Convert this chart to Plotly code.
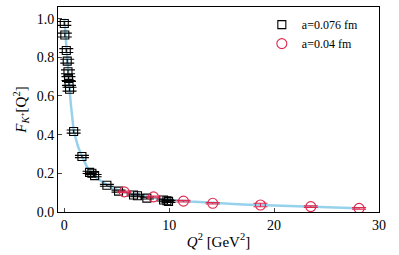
import plotly.graph_objects as go

# a=0.076 fm (black squares)
q2_a076 = [0.0, 0.05, 0.19, 0.28, 0.35, 0.4, 0.45, 0.5, 0.89, 1.68, 2.41, 2.63, 2.89, 4.06, 5.17, 6.6, 6.98, 7.87, 9.46, 9.78, 9.94]
ff_a076 = [0.975, 0.915, 0.835, 0.78, 0.725, 0.69, 0.665, 0.635, 0.416, 0.287, 0.205, 0.200, 0.188, 0.138, 0.108, 0.088, 0.084, 0.072, 0.062, 0.058, 0.055]
err_a076 = [0.01, 0.01, 0.01, 0.01, 0.01, 0.01, 0.01, 0.01, 0.008, 0.006, 0.006, 0.006, 0.006, 0.005, 0.005, 0.005, 0.005, 0.005, 0.005, 0.005, 0.005]

# a=0.04 fm (red circles)
q2_a04 = [5.71, 8.5, 11.36, 14.15, 18.7, 23.5, 28.1]
ff_a04 = [0.104, 0.078, 0.056, 0.045, 0.036, 0.028, 0.019]
err_a04 = [0.004, 0.004, 0.004, 0.004, 0.009, 0.004, 0.004]

# fitted curve
q2_fit = [0, 0.1, 0.2, 0.3, 0.45, 0.6, 0.9, 1.3, 1.7, 2.2, 2.8, 3.5, 4.2, 5, 6, 7, 8, 9, 10, 12, 14, 17, 20, 24, 28]
ff_fit = [1.0, 0.92, 0.84, 0.77, 0.66, 0.57, 0.42, 0.34, 0.285, 0.23, 0.19, 0.16, 0.135, 0.115, 0.1, 0.088, 0.078, 0.07, 0.063, 0.054, 0.047, 0.039, 0.033, 0.026, 0.02]

FONT = "Liberation Serif"

fig = go.Figure()
fig.add_trace(go.Scatter(x=q2_fit, y=ff_fit, mode="lines", line=dict(color="#96d2ec", width=2.5),
                         showlegend=False, hoverinfo="skip"))
fig.add_trace(go.Scatter(x=q2_a076, y=ff_a076, mode="markers", name="a=0.076 fm",
                         marker=dict(symbol="square-open", size=8, color="black", line=dict(width=1.1)),
                         error_y=dict(type="data", array=err_a076, color="black", thickness=1.1, width=7)))
fig.add_trace(go.Scatter(x=q2_a04, y=ff_a04, mode="markers", name="a=0.04 fm",
                         marker=dict(symbol="circle-open", size=10, color="#e0284f", line=dict(width=1.1)),
                         error_y=dict(type="data", array=err_a04, color="#e0284f", thickness=1.1, width=7)))

fig.update_layout(
    width=399, height=255,
    margin=dict(l=58, r=20, t=7, b=43),
    paper_bgcolor="white", plot_bgcolor="white",
    font=dict(family=FONT, size=13, color="black"),
    legend=dict(x=0.635, y=0.985, xanchor="left", yanchor="top", bgcolor="rgba(0,0,0,0)",
                font=dict(family=FONT, size=12), itemwidth=30, tracegroupgap=0),
    xaxis=dict(range=[-0.6, 30], tickvals=[0, 10, 20, 30], ticks="inside", ticklen=4,
               showline=True, linecolor="black", linewidth=1, mirror=True, showgrid=False, zeroline=False,
               tickfont=dict(size=14),
               title=dict(text="<i>Q</i><sup>2</sup> [GeV<sup>2</sup>]", standoff=4, font=dict(size=15))),
    yaxis=dict(range=[0, 1.06], tickvals=[0, 0.2, 0.4, 0.6, 0.8, 1.0], tickformat=".1f", ticks="inside", ticklen=4,
               showline=True, linecolor="black", linewidth=1, mirror=True, showgrid=False, zeroline=False,
               tickfont=dict(size=14),
               title=dict(text="<i>F</i><sub><i>K</i>⁺</sub>[Q<sup>2</sup>]", standoff=6, font=dict(size=15))),
)

fig.write_html("out.html", config={"displayModeBar": False},
               post_script="document.body.style.margin='0';")
